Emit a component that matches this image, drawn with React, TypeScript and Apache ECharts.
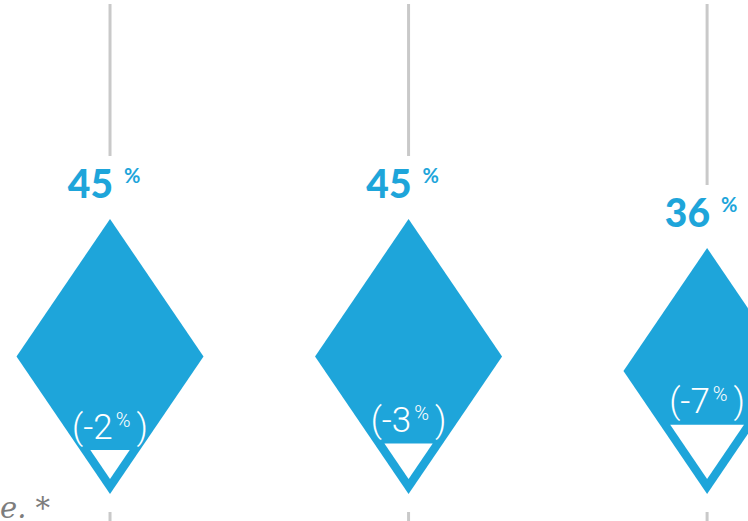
import React, { useEffect, useRef } from "react";
import * as echarts from "echarts";

// Data
const items = ["0", "1", "2"];
const values = [45, 45, 36];
const changes = [-2, -3, -7];
const valueSuffix = "%";
const footnote = "e. *";

const BLUE = "#1ea5da";
const GRAY = "#c9c9c9";

export default function App() {
  const ref = useRef<HTMLDivElement | null>(null);

  useEffect(() => {
    if (!ref.current) return;
    const chart = echarts.init(ref.current, null, { renderer: "svg" });
    const data = items.map((_, i) => [i, values[i], changes[i]]);

    const renderItem = (params: any, api: any) => {
      const i = api.value(0);
      const v = api.value(1);
      const c = api.value(2);
      const base = api.coord([i, 0]);
      const unit = api.size([0, 1])[1];
      const cx = base[0];
      const by = base[1];
      const H = Math.sqrt(v) * unit;
      const W = H * 0.68;
      const top = by - H;
      const th = (Math.sqrt(Math.abs(c)) * unit) / 2;
      const tw = Math.sqrt(Math.abs(c)) * unit * 0.68;
      const tipY = by - 15;
      const triTop = tipY - th;
      return {
        type: "group",
        children: [
          {
            type: "line",
            shape: { x1: cx, y1: 4, x2: cx, y2: top - 63 },
            style: { stroke: GRAY, lineWidth: 3 },
          },
          {
            type: "line",
            shape: { x1: cx, y1: by + 18, x2: cx, y2: 540 },
            style: { stroke: GRAY, lineWidth: 3 },
          },
          {
            type: "polygon",
            shape: {
              points: [
                [cx, top],
                [cx + W / 2, by - H / 2],
                [cx, by],
                [cx - W / 2, by - H / 2],
              ],
            },
            style: { fill: BLUE },
          },
          {
            type: "polygon",
            shape: {
              points: [
                [cx - tw / 2, triTop],
                [cx + tw / 2, triTop],
                [cx, tipY],
              ],
            },
            style: { fill: "#ffffff" },
          },
          {
            type: "text",
            x: cx + 3,
            y: top - 36,
            style: {
              text: String(v),
              fill: BLUE,
              fontSize: 39,
              fontWeight: 900,
              fontFamily: "Lato",
              align: "right",
              verticalAlign: "middle",
            },
          },
          {
            type: "text",
            x: cx + 14,
            y: top - 44,
            style: {
              text: valueSuffix,
              fill: BLUE,
              fontSize: 20,
              fontWeight: "bold",
              fontFamily: "Lato",
              align: "left",
              verticalAlign: "middle",
            },
          },
          {
            type: "text",
            x: cx,
            y: triTop - 23,
            style: {
              text: `{a|(${c}}{b|${valueSuffix}}{a|)}`,
              fill: "#ffffff",
              align: "center",
              verticalAlign: "middle",
              rich: {
                a: {
                  fontSize: 35,
                  fontWeight: 300,
                  fontFamily: "Roboto",
                  fill: "#ffffff",
                  color: "#ffffff",
                },
                b: {
                  fontSize: 20,
                  fontWeight: 300,
                  fontFamily: "Roboto",
                  fill: "#ffffff",
                  color: "#ffffff",
                  verticalAlign: "top",
                  padding: [0, 6, 0, 3],
                },
              },
            },
          },
        ],
      };
    };

    chart.setOption({
      animation: false,
      backgroundColor: "#ffffff",
      grid: { left: 0, right: 0, top: 0, bottom: 27 },
      xAxis: { type: "value", min: -0.3685, max: 2.137, show: false },
      yAxis: { type: "value", min: 0, max: 12.05, show: false },
      graphic: [
        {
          type: "text",
          left: 0,
          top: 493,
          style: {
            text: footnote,
            fill: "#7d7d7d",
            fontSize: 29,
            fontStyle: "italic",
            fontFamily: "DejaVu Serif",
          },
        },
      ],
      series: [
        {
          type: "custom",
          renderItem,
          data,
          clip: false,
          encode: { x: 0, y: 1 },
        },
      ],
    });
    return () => chart.dispose();
  }, []);

  return (
    <div
      ref={ref}
      style={{ position: "fixed", left: 0, top: 0, width: 748, height: 521 }}
    />
  );
}
